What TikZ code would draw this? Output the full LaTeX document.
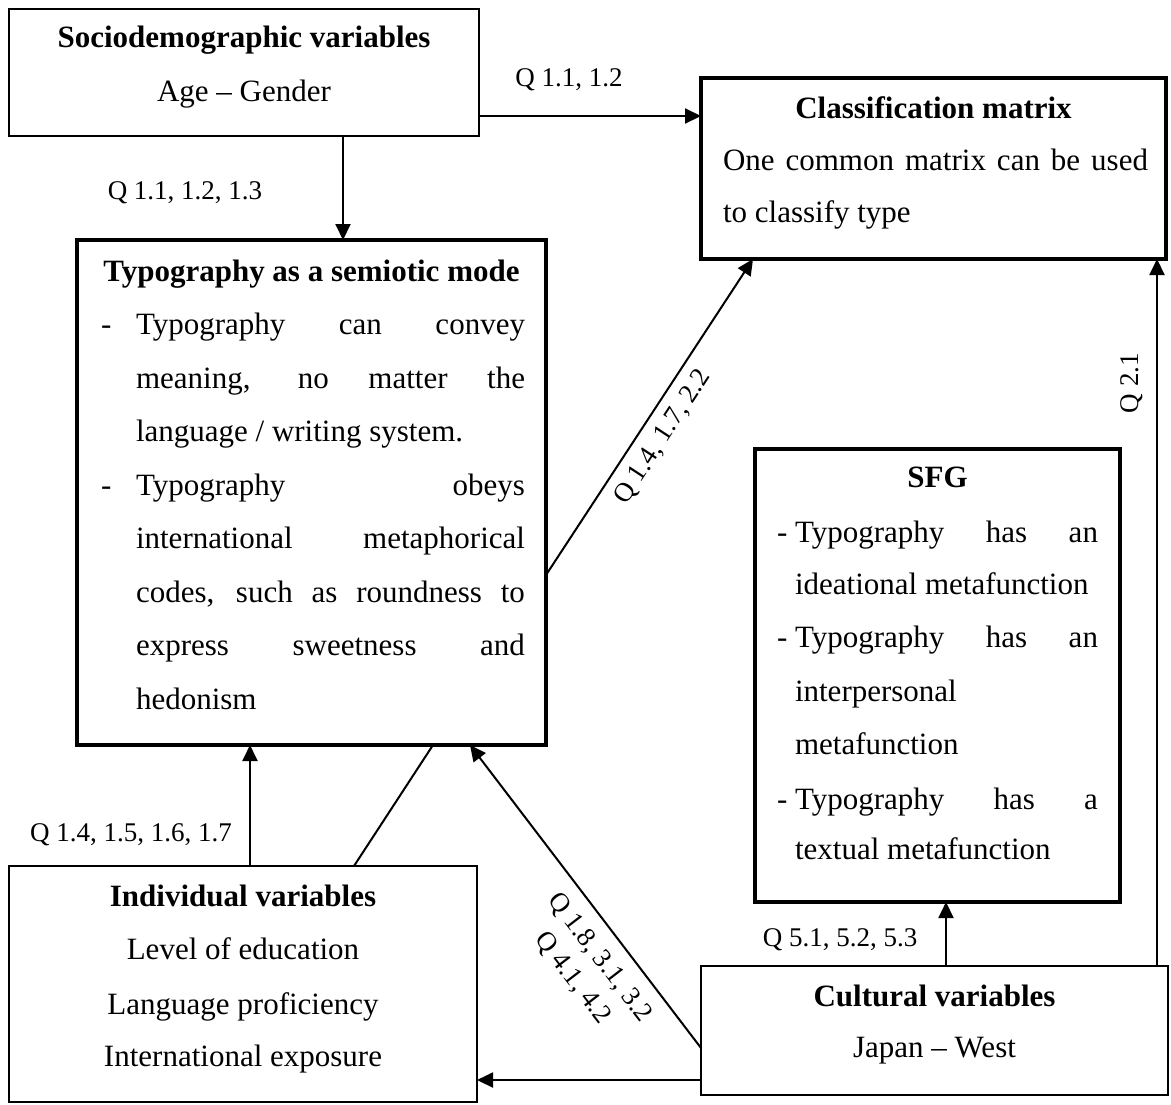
\documentclass[tikz,border=0pt]{standalone}
\usepackage{fontspec}
\setmainfont{Liberation Serif}
\usetikzlibrary{arrows.meta}
\newcommand{\jline}[2]{\makebox[#1][s]{#2}}
\begin{document}
\begin{tikzpicture}[x=0.5pt,y=-0.5pt,
  thinbox/.style={draw, line width=0.85pt, rectangle, inner sep=0pt, outer sep=0pt},
  thickbox/.style={draw, line width=2pt, rectangle, inner sep=0pt, outer sep=0pt},
  txt/.style={inner sep=0pt, outer sep=0pt, font=\fontsize{15.5}{18}\selectfont, anchor=base},
  ttl/.style={txt, font=\fontsize{15.5}{18}\selectfont\bfseries},
  lbl/.style={inner sep=0pt, font=\fontsize{13.5}{17}\selectfont},
  arr/.style={line width=1pt, -{Triangle[length=8pt,width=7.5pt]}},
  conn/.style={line width=1pt}]
\useasboundingbox (0,0) rectangle (1171,1104);

% boxes
\node[thinbox, minimum width=235pt, minimum height=63.5pt] (socio) at (244,72.5) {};
\node[thickbox, minimum width=232.5pt, minimum height=90.5pt] (classif) at (933.5,168.5) {};
\node[thickbox, minimum width=234.5pt, minimum height=252.5pt] (typo) at (311.5,492.5) {};
\node[thickbox, minimum width=182.5pt, minimum height=226.5pt] (sfg) at (937.5,675.5) {};
\node[thinbox, minimum width=234pt, minimum height=118pt] (indiv) at (243,984) {};
\node[thinbox, minimum width=233.5pt, minimum height=64.5pt] (cult) at (934.5,1030.5) {};

% socio text
\node[ttl] (socio-t) at (244,47) {Sociodemographic variables};
\node[txt] (socio-a) at (244,101) {Age \textendash\ Gender};

% classification text
\node[ttl] (cl-t) at (933.5,118) {Classification matrix};
\node[txt, anchor=base west] (cl-a) at (723,170) {\jline{212.5pt}{One common matrix can be used}};
\node[txt, anchor=base west] (cl-b) at (723,222) {to classify type};

% typography text
\node[ttl] (ty-t) at (311.5,281) {Typography as a semiotic mode};
\node[txt, anchor=base west] (ty-d1) at (101,334.5) {-};
\node[txt, anchor=base west] (ty-1) at (136,334.5) {\jline{194.5pt}{Typography can convey}};
\node[txt, anchor=base west] (ty-2) at (136,388) {\jline{194.5pt}{meaning, no matter the}};
\node[txt, anchor=base west] (ty-3) at (136,441.5) {language / writing system.};
\node[txt, anchor=base west] (ty-d2) at (101,495) {-};
\node[txt, anchor=base west] (ty-4) at (136,495) {\jline{194.5pt}{Typography obeys}};
\node[txt, anchor=base west] (ty-5) at (136,548.5) {\jline{194.5pt}{international metaphorical}};
\node[txt, anchor=base west] (ty-6) at (136,602) {\jline{194.5pt}{codes, such as roundness to}};
\node[txt, anchor=base west] (ty-7) at (136,655.5) {\jline{194.5pt}{express sweetness and}};
\node[txt, anchor=base west] (ty-8) at (136,709) {hedonism};

% SFG text
\node[ttl] (sf-t) at (937.5,487) {SFG};
\node[txt, anchor=base west] (sf-d1) at (777,542) {-};
\node[txt, anchor=base west] (sf-1) at (795,542) {\jline{151.5pt}{Typography has an}};
\node[txt, anchor=base west] (sf-2) at (795,594) {ideational metafunction};
\node[txt, anchor=base west] (sf-d2) at (777,647) {-};
\node[txt, anchor=base west] (sf-3) at (795,647) {\jline{151.5pt}{Typography has an}};
\node[txt, anchor=base west] (sf-4) at (795,701) {interpersonal};
\node[txt, anchor=base west] (sf-5) at (795,754) {metafunction};
\node[txt, anchor=base west] (sf-d3) at (777,809) {-};
\node[txt, anchor=base west] (sf-6) at (795,809) {\jline{151.5pt}{Typography has a}};
\node[txt, anchor=base west] (sf-7) at (795,859) {textual metafunction};

% individual text
\node[ttl] (in-t) at (243,906) {Individual variables};
\node[txt] (in-1) at (243,959) {Level of education};
\node[txt] (in-2) at (243,1014) {Language proficiency};
\node[txt] (in-3) at (243,1066) {International exposure};

% cultural text
\node[ttl] (cu-t) at (934.5,1006) {Cultural variables};
\node[txt] (cu-1) at (934.5,1057) {Japan \textendash\ West};

% connector anchors
\coordinate (ya) at (0,116);
\coordinate (xa) at (343,0);
\coordinate (yb) at (0,575);
\coordinate (xb) at (753,0);
\coordinate (xc) at (1157,0);
\coordinate (xd) at (946,0);
\coordinate (xe) at (250,0);
\coordinate (xf) at (354,0);
\coordinate (xg) at (433,0);
\coordinate (yh) at (0,1048);
\coordinate (xh) at (470,0);
\coordinate (yi) at (0,1080);

\draw[arr] (socio.east |- ya) -- (classif.west |- ya);
\draw[arr] (socio.south -| xa) -- (typo.north -| xa);
\draw[arr] (typo.east |- yb) -- (classif.south -| xb);
\draw[arr] (cult.north -| xc) -- (classif.south -| xc);
\draw[arr] (cult.north -| xd) -- (sfg.south -| xd);
\draw[arr] (indiv.north -| xe) -- (typo.south -| xe);
\draw[conn] (indiv.north -| xf) -- (typo.south -| xg);
\draw[arr] (cult.west |- yh) -- (typo.south -| xh);
\draw[arr] (cult.west |- yi) -- (indiv.east |- yi);

% labels
\node[lbl] (l1) at (569,80) {Q 1.1, 1.2};
\node[lbl] (l2) at (185,193) {Q 1.1, 1.2, 1.3};
\node[lbl, rotate=56.8] (l3) at (663,437) {Q 1.4, 1.7, 2.2};
\node[lbl, rotate=90] (l4) at (1132,383) {Q 2.1};
\node[lbl] (l5) at (131,835) {Q 1.4, 1.5, 1.6, 1.7};
\node[lbl] (l6) at (840,940) {Q 5.1, 5.2, 5.3};
\node[lbl, rotate=-52.5, align=center] (l7) at (586,968) {Q 1.8, 3.1, 3.2\\Q 4.1, 4.2};
\end{tikzpicture}
\end{document}
